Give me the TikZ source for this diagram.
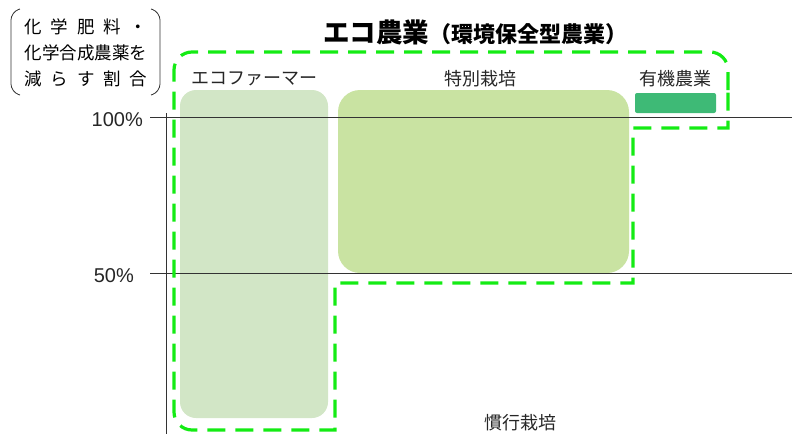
\documentclass[tikz,border=0pt]{standalone}
\usepackage{fontspec}
\setmainfont{Noto Sans CJK JP}
\newfontfamily\pctfont{Liberation Sans}
\usepackage{tikz}
\usetikzlibrary{positioning, calc}
\definecolor{ecogreen}{RGB}{20,235,20}
\definecolor{farmerfill}{RGB}{210,230,198}
\definecolor{specialfill}{RGB}{201,227,162}
\definecolor{organicfill}{RGB}{62,186,118}
\tikzstyle{labeltext}=[font=\fontsize{18}{20}\selectfont, inner sep=0pt, text=black!85]
\tikzstyle{pcttext}=[font=\pctfont\fontsize{20}{22}\selectfont, inner sep=0pt, text=black!85]
\tikzstyle{cropbox}=[inner sep=0pt, rounded corners=16pt]
\tikzstyle{gridline}=[black!80, line width=0.8pt]
\tikzstyle{ecopath}=[draw=ecogreen, line width=3.2pt, dash pattern=on 18pt off 10pt]

\begin{document}
\begin{tikzpicture}[x=1pt, y=-1pt]
        \useasboundingbox (0,0) rectangle (792,434);

        % blocks
        \node[cropbox, fill=farmerfill, minimum width=148pt, minimum height=328pt] (farmer) at (254,254) {};
        \node[cropbox, fill=specialfill, minimum width=291pt, minimum height=183pt, rounded corners=22pt] (special) at (483.5,181.5) {};
        \node[cropbox, fill=organicfill, minimum width=81pt, minimum height=20pt, rounded corners=2pt] (organic) at (675.5,103) {};

        % axis and levels
        \coordinate (axtop) at (166,113);
        \coordinate (axbot) at (166,434);
        \coordinate (full-l) at (150,117);
        \coordinate (full-r) at (792,117);
        \coordinate (half-l) at (150,273);
        \coordinate (half-r) at (792,273);
        \draw[gridline] (axtop) -- (axbot);
        \draw[gridline] (full-l) -- (full-r);
        \draw[gridline] (half-l) -- (half-r);
        \node[pcttext, left=7pt of full-l, yshift=-3pt] (full) {100\%};
        \node[pcttext, left=16pt of half-l, yshift=-3pt] (half) {50\%};

        % eco area
        \draw[ecopath] (728,90) [rounded corners=18pt] -- (728,52) -- (174,52) -- (174,430)
            [sharp corners] -- (335,430) -- (335,283) -- (633,283) -- (633,128) -- (728,128) -- cycle;

        % texts
        \node[inner sep=0pt, font=\bfseries] (title) at (475,32)
            {{\fontsize{26.5}{29}\selectfont エコ農業}{\fontsize{22}{24}\selectfont （環境保全型農業）}};
        \node[labeltext] (farmer-l) at (254,79) {エコファーマー};
        \node[labeltext] (special-l) at (480,79) {特別栽培};
        \node[labeltext] (organic-l) at (675,79) {有機農業};
        \node[labeltext] (conv-l) at (520,423) {慣行栽培};

        \node[inner sep=0pt, align=center, font=\fontsize{17.5}{26}\selectfont] (ratio) at (86,53)
            {\makebox[123pt][s]{化\hfill 学\hfill 肥\hfill 料\hfill ・}\\
             化学合成農薬を\\
             \makebox[123pt][s]{減\hfill ら\hfill す\hfill 割\hfill 合}};
        \draw[black!80, line width=0.8pt, rounded corners=8pt] (20,9) -- (11,12) -- (11,92) -- (20,95);
        \draw[black!80, line width=0.8pt, rounded corners=8pt] (151,9) -- (160,12) -- (160,92) -- (151,95);
\end{tikzpicture}
\end{document}
